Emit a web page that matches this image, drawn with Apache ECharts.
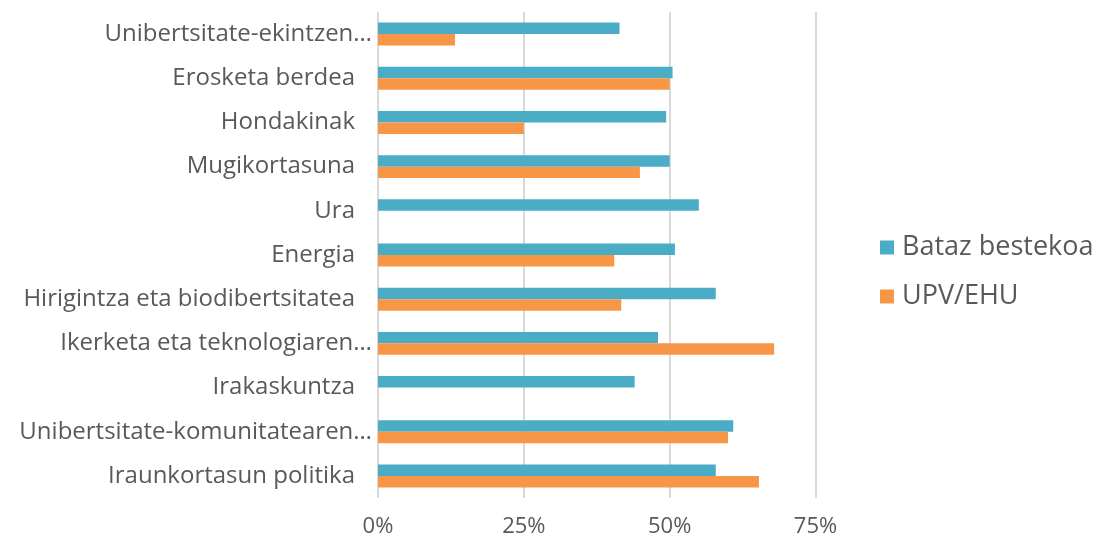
<!DOCTYPE html>
<html>
<head>
<meta charset="utf-8">
<script src="https://cdn.jsdelivr.net/npm/echarts@6/dist/echarts.min.js"></script>
<style>
  html, body { margin: 0; padding: 0; background: #fff; }
  #chart { width: 1096px; height: 538px; }
</style>
</head>
<body>
<div id="chart"></div>
<script>
// categories from bottom to top
const categories = [
  'Iraunkortasun politika',
  'Unibertsitate-komunitatearen…',
  'Irakaskuntza',
  'Ikerketa eta teknologiaren…',
  'Hirigintza eta biodibertsitatea',
  'Energia',
  'Ura',
  'Mugikortasuna',
  'Hondakinak',
  'Erosketa berdea',
  'Unibertsitate-ekintzen…',
];
const batazBestekoa = [0.579, 0.609, 0.44, 0.48, 0.579, 0.509, 0.55, 0.50, 0.494, 0.505, 0.414];
const upvEhu = [0.653, 0.60, null, 0.679, 0.417, 0.405, null, 0.449, 0.25, 0.50, 0.132];
const xTicks = [0, 0.25, 0.5, 0.75];

const textColor = '#595959';
const font = '"Open Sans", sans-serif';

const chart = echarts.init(document.getElementById('chart'));
chart.setOption({
  animation: false,
  backgroundColor: '#fff',
  textStyle: { fontFamily: font },
  grid: { left: 378, width: 437.5, top: 12, height: 486, containLabel: false },
  legend: {
    orient: 'vertical',
    left: 880,
    top: 234,
    padding: 0,
    itemWidth: 14,
    itemHeight: 14,
    itemGap: 22,
    icon: 'rect',
    data: ['Bataz bestekoa', 'UPV/EHU'],
    textStyle: { color: textColor, fontSize: 27, fontFamily: font, padding: [0, 0, 0, 3] },
  },
  xAxis: {
    type: 'value',
    min: xTicks[0],
    max: xTicks[xTicks.length - 1],
    interval: 0.25,
    axisLine: { show: false },
    axisTick: { show: false },
    splitLine: { lineStyle: { color: '#d9d9d9', width: 2 } },
    axisLabel: {
      color: textColor,
      fontSize: 22,
      margin: 18,
      formatter: (v) => Math.round(v * 100) + '%',
    },
  },
  yAxis: {
    type: 'category',
    data: categories,
    axisLine: { show: false },
    axisTick: { show: false },
    axisLabel: {
      color: textColor,
      margin: 6,
      formatter: (v) => (v.endsWith('…') ? '{b|' + v + '}' : '{a|' + v + '}'),
      rich: {
        a: { fontSize: 24, color: textColor, fontFamily: font, padding: [0, 17, 0, 0] },
        b: { fontSize: 24, color: textColor, fontFamily: font },
      },
    },
  },
  series: [
    {
      name: 'Bataz bestekoa',
      type: 'bar',
      data: batazBestekoa,
      barGap: '0%',
      barCategoryGap: '48%',
      itemStyle: { color: '#4bacc6' },
    },
    {
      name: 'UPV/EHU',
      type: 'bar',
      data: upvEhu,
      itemStyle: { color: '#f79646' },
    },
  ],
});
</script>
</body>
</html>
